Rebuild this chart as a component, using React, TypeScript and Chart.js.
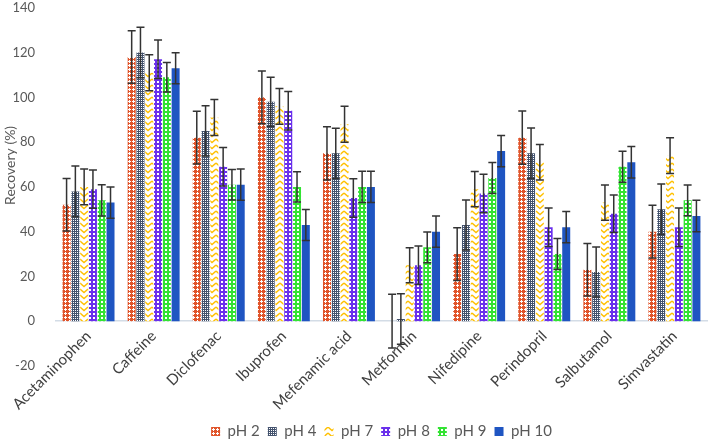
import React, { useEffect, useRef } from 'react';
import { Chart, registerables } from 'chart.js';

Chart.register(...registerables);

const categories = ['Acetaminophen', 'Caffeine', 'Diclofenac', 'Ibuprofen', 'Mefenamic acid', 'Metformin', 'Nifedipine', 'Perindopril', 'Salbutamol', 'Simvastatin'];
const seriesNames = ['pH 2', 'pH 4', 'pH 7', 'pH 8', 'pH 9', 'pH 10'];

const pH2 = [52, 118, 82, 100, 75, 0, 30, 82, 23, 40];
const pH4 = [58, 120, 85, 98, 75, 1, 43, 75, 22, 50];
const pH7 = [60, 111, 91, 96, 88, 25, 59, 71, 53, 74];
const pH8 = [59, 117, 69, 94, 55, 25, 57, 42, 48, 42];
const pH9 = [54, 109, 61, 60, 60, 33, 64, 30, 69, 54];
const pH10 = [53, 113, 61, 43, 60, 40, 76, 42, 71, 47];

const err2 = [11.7, 11.7, 11.8, 11.8, 11.9, 12, 11.8, 11.9, 11.7, 11.8];
const err4 = [11.3, 11.3, 11.2, 11, 11.2, 11.3, 11.2, 11.3, 11.2, 11.3];
const err7 = [8, 8, 8, 8, 8, 7.8, 7.9, 7.9, 7.9, 8];
const err8 = [8.5, 8.6, 8.6, 8.6, 8.6, 8.6, 8.6, 8.6, 8.4, 8.6];
const err9 = [7, 6.6, 6.8, 6.8, 7, 6.9, 6.9, 6.9, 6.9, 6.9];
const err10 = [7, 6.9, 7, 6.9, 7, 7, 7, 7, 7, 7];

const yMin = -20;
const yMax = 140;
const yStep = 20;
const yTitle = 'Recovery (%)';

const FONT = 'Lato';
const TEXT = '#595959';
const LABEL = '#404040';

function tile(w: number, h: number, draw: (c: CanvasRenderingContext2D) => void) {
  const c = document.createElement('canvas');
  c.width = w;
  c.height = h;
  const g = c.getContext('2d') as CanvasRenderingContext2D;
  draw(g);
  return c;
}

function buildPatterns(ctx: CanvasRenderingContext2D) {
  const red = tile(4, 4, (g) => {
    g.fillStyle = '#E0542A';
    g.fillRect(0, 0, 4, 4);
    g.fillStyle = '#ffffff';
    g.fillRect(1, 0, 1, 1);
    g.fillRect(0, 1, 3, 1);
    g.fillRect(1, 2, 1, 1);
  });
  const slate = tile(2, 2, (g) => {
    g.fillStyle = '#44536E';
    g.fillRect(0, 0, 2, 2);
    g.fillStyle = '#ffffff';
    g.fillRect(1, 0, 1, 1);
  });
  const zig = tile(8, 6, (g) => {
    g.fillStyle = '#ffffff';
    g.fillRect(0, 0, 8, 6);
    g.strokeStyle = '#FFC000';
    g.lineWidth = 1.4;
    g.beginPath();
    g.moveTo(0, 1);
    g.lineTo(4, 4.5);
    g.lineTo(8, 1);
    g.stroke();
  });
  const purple = tile(4, 4, (g) => {
    g.fillStyle = '#6A30EC';
    g.fillRect(0, 0, 4, 4);
    g.fillStyle = '#ffffff';
    g.fillRect(1, 1, 2, 2);
  });
  const green = tile(4, 4, (g) => {
    g.fillStyle = '#33E333';
    g.fillRect(0, 0, 4, 4);
    g.fillStyle = '#ffffff';
    g.fillRect(1, 1, 2, 2);
  });
  return [
    ctx.createPattern(red, 'repeat'),
    ctx.createPattern(slate, 'repeat'),
    ctx.createPattern(zig, 'repeat'),
    ctx.createPattern(purple, 'repeat'),
    ctx.createPattern(green, 'repeat'),
    '#1F55C2',
  ];
}

const errorBarPlugin = {
  id: 'errorBars',
  afterDatasetsDraw(chart: any) {
    const ctx = chart.ctx;
    const ys = chart.scales.y;
    ctx.save();
    ctx.strokeStyle = '#333333';
    ctx.lineWidth = 1.5;
    chart.data.datasets.forEach((ds: any, i: number) => {
      const meta = chart.getDatasetMeta(i);
      meta.data.forEach((bar: any, j: number) => {
        const v = ds.data[j];
        const e = ds.errors[j];
        const x = bar.x;
        const yt = ys.getPixelForValue(v + e);
        const yb = ys.getPixelForValue(v - e);
        const hw = 4;
        ctx.beginPath();
        ctx.moveTo(x, yt);
        ctx.lineTo(x, yb);
        ctx.moveTo(x - hw, yt);
        ctx.lineTo(x + hw, yt);
        ctx.moveTo(x - hw, yb);
        ctx.lineTo(x + hw, yb);
        ctx.stroke();
      });
    });
    ctx.restore();
  },
};

// Y-axis title, drawn a little above the plot-area centre as in the original
const yTitlePlugin = {
  id: 'yTitle',
  afterDraw(chart: any) {
    const ctx = chart.ctx;
    const area = chart.chartArea;
    ctx.save();
    ctx.fillStyle = TEXT;
    ctx.font = `14px ${FONT}`;
    ctx.textAlign = 'center';
    ctx.textBaseline = 'middle';
    ctx.translate(10, area.top + (area.bottom - area.top) * 0.44);
    ctx.rotate(-Math.PI / 2);
    ctx.fillText(yTitle, 0, 0);
    ctx.restore();
  },
};

export default function App() {
  const ref = useRef<HTMLCanvasElement | null>(null);

  useEffect(() => {
    const canvas = ref.current;
    if (!canvas) return;
    const ctx = canvas.getContext('2d') as CanvasRenderingContext2D;
    const fills = buildPatterns(ctx);
    const values = [pH2, pH4, pH7, pH8, pH9, pH10];
    const errors = [err2, err4, err7, err8, err9, err10];

    const chart = new Chart(canvas, {
      type: 'bar',
      data: {
        labels: categories,
        datasets: seriesNames.map((name, i) => ({
          label: name,
          data: values[i],
          errors: errors[i],
          backgroundColor: fills[i] as any,
          borderWidth: 0,
          categoryPercentage: 0.81,
          barPercentage: 0.91,
          xAxisID: 'x',
          yAxisID: 'y',
        })) as any,
      },
      options: {
        animation: false,
        responsive: false,
        devicePixelRatio: 1,
        layout: { padding: { left: 0, right: 2, top: 0, bottom: -8 } },
        plugins: {
          tooltip: { enabled: false },
          legend: {
            position: 'bottom',
            fullSize: false,
            labels: {
              boxWidth: 9,
              boxHeight: 9,
              padding: 8,
              color: TEXT,
              font: { family: FONT, size: 15 },
            },
          },
        },
        scales: {
          x: {
            type: 'category',
            position: { y: 0 } as any,
            grid: { display: false, drawTicks: false },
            border: { display: true, color: '#D3DCE6', width: 1.5 },
            ticks: {
              color: LABEL,
              font: { family: FONT, size: 15 },
              minRotation: 45,
              maxRotation: 45,
              autoSkip: false,
              padding: 6,
            },
          },
          pad: {
            type: 'category',
            axis: 'x',
            position: 'bottom',
            display: true,
            grid: { display: false, drawTicks: false },
            border: { display: false },
            ticks: { display: false },
            afterFit: (s: any) => {
              s.height = 50;
            },
          } as any,
          y: {
            type: 'linear',
            min: yMin,
            max: yMax,
            grid: { display: false, drawTicks: true, tickLength: 21 },
            border: { display: false },
            ticks: {
              stepSize: yStep,
              color: TEXT,
              font: { family: FONT, size: 13 },
              padding: 0,
            },
            afterFit: (s: any) => {
              s.width = 56;
            },
          },
        },
      },
      plugins: [errorBarPlugin, yTitlePlugin],
    } as any);

    return () => chart.destroy();
  }, []);

  return (
    <div style={{ position: 'absolute', left: 0, top: 0, width: 709, height: 441, background: '#ffffff' }}>
      <canvas ref={ref} width={709} height={441} style={{ display: 'block', width: 709, height: 441 }} />
    </div>
  );
}
